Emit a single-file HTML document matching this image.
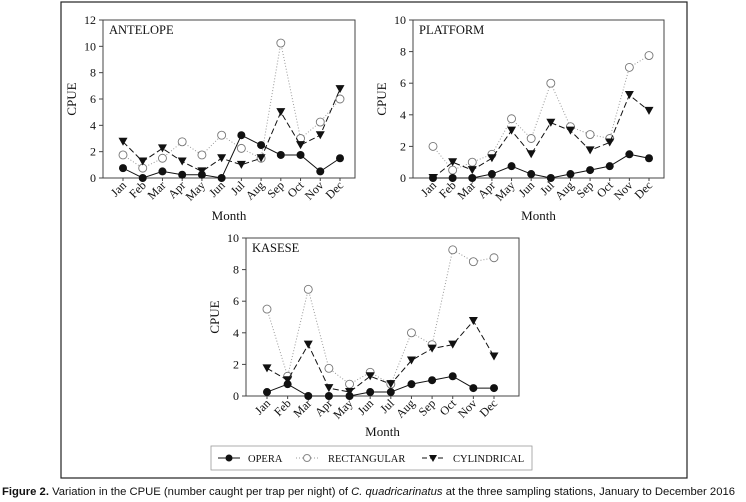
<!DOCTYPE html>
<html><head><meta charset="utf-8"><style>
body{margin:0;background:#fff;width:746px;height:502px;overflow:hidden}
svg{display:block}
text{font-family:"Liberation Serif",serif;fill:#111}
.cap{font-family:"Liberation Sans",sans-serif;font-size:11px}
</style></head><body>
<svg id="fig" width="746" height="502">
<rect x="61" y="2" width="626" height="476" fill="none" stroke="#222" stroke-width="1.2"/>
<g id="legend">
<rect x="211" y="446" width="321" height="24" fill="none" stroke="#999" stroke-width="0.8"/>
<g><line x1="218" y1="458" x2="240" y2="458" stroke="#111"/><circle cx="229" cy="458" r="3.5" fill="#111"/><text x="248" y="462" font-size="10.5">OPERA</text></g>
<g><line x1="296" y1="458" x2="318" y2="458" stroke="#999" stroke-dasharray="1,2"/><circle cx="307" cy="458" r="3.5" fill="#fff" stroke="#888"/><text x="328" y="462" font-size="10.5">RECTANGULAR</text></g>
<g><line x1="422" y1="458" x2="444" y2="458" stroke="#111" stroke-dasharray="5,3"/><path d="M429,455 L437,455 L433,462 Z" fill="#111"/><text x="453" y="462" font-size="10.5">CYLINDRICAL</text></g>
</g>
<text class="cap" x="2" y="495" textLength="733" lengthAdjust="spacingAndGlyphs"><tspan font-weight="bold">Figure 2.</tspan> Variation in the CPUE (number caught per trap per night) of <tspan font-style="italic">C. quadricarinatus</tspan> at the three sampling stations, January to December 2016</text>
</svg>
<script>
const months=["Jan","Feb","Mar","Apr","May","Jun","Jul","Aug","Sep","Oct","Nov","Dec"];
const antelopeOpera=[0.75,0,0.5,0.25,0.25,0,3.25,2.5,1.75,1.75,0.5,1.5];
const antelopeRect=[1.75,0.75,1.5,2.75,1.75,3.25,2.25,1.5,10.25,3,4.25,6];
const antelopeCyl=[2.75,1.25,2.25,1.25,0.5,1.5,1,1.5,5,2.5,3.25,6.75];
const platformOpera=[0,0,0,0.25,0.75,0.25,0,0.25,0.5,0.75,1.5,1.25];
const platformRect=[2,0.5,1,1.5,3.75,2.5,6,3.25,2.75,2.5,7,7.75];
const platformCyl=[0,1,0.5,1.25,3,1.5,3.5,3,1.75,2.25,5.25,4.25];
const kaseseOpera=[0.25,0.75,0,0,0,0.25,0.25,0.75,1,1.25,0.5,0.5];
const kaseseRect=[5.5,1.25,6.75,1.75,0.75,1.5,0.75,4,3.25,9.25,8.5,8.75];
const kaseseCyl=[1.75,1,3.25,0.5,0.25,1.25,0.75,2.25,3,3.25,4.75,2.5];
const antelopeTicks=[0,2,4,6,8,10,12];
const tenTicks=[0,2,4,6,8,10];

const NS="http://www.w3.org/2000/svg";
const svg=document.getElementById("fig");
function mk(tag,attrs,parent){const e=document.createElementNS(NS,tag);for(const k in attrs)e.setAttribute(k,attrs[k]);(parent||svg).appendChild(e);return e;}

function panel(name,box,ymax,ticks,series,monthDy){
  const g=mk("g",{});
  
  
  const {L,R,T,B,x0,x1}=box;
  const xs=i=>x0+i*(x1-x0)/(months.length-1);
  const ys=v=>B-v*(B-T)/ymax;
  const fr=mk("rect",{x:L,y:T,width:R-L,height:B-T,fill:"none",stroke:"#444","stroke-width":1},g);
  
  
  ticks.forEach(t=>{
    mk("line",{x1:L-4,x2:L,y1:ys(t),y2:ys(t),stroke:"#444"},g);
    const tx=mk("text",{x:L-7,y:ys(t)+4,"text-anchor":"end","font-size":"12"},g);
    tx.textContent=t;
    
    
  });
  months.forEach((m,i)=>{
    mk("line",{x1:xs(i),x2:xs(i),y1:B,y2:B+3,stroke:"#444"},g);
    const tx=mk("text",{x:xs(i)+4,y:B+8,"text-anchor":"end","font-size":"12",transform:`rotate(-45 ${xs(i)+4} ${B+8})`},g);
    tx.textContent=m;
    
    
  });
  const yt=mk("text",{x:0,y:0,"text-anchor":"middle","font-size":"13",transform:`translate(${L-27} ${(T+B)/2}) rotate(-90)`},g);
  yt.textContent="CPUE";
  
  
  const xt=mk("text",{x:(L+R)/2,y:B+monthDy,"text-anchor":"middle","font-size":"13"},g);
  xt.textContent="Month";
  
  
  const st=mk("text",{x:L+6,y:T+14,"font-size":"12.5"},g);
  st.textContent=name.toUpperCase();
  
  
  series.forEach(s=>{
    const pts=s.data.map((v,i)=>xs(i)+","+ys(v)).join(" ");
    const pl=mk("polyline",{points:pts,fill:"none",stroke:s.stroke,"stroke-width":1,"stroke-dasharray":s.dash},g);
    
    
    s.data.forEach((v,i)=>{
      const x=xs(i),y=ys(v);let m;
      if(s.key==="cylindrical") m=mk("path",{d:`M${x-4.5},${y-4} L${x+4.5},${y-4} L${x},${y+4} Z`,fill:"#111"},g);
      else if(s.key==="opera") m=mk("circle",{cx:x,cy:y,r:4,fill:"#111"},g);
      else m=mk("circle",{cx:x,cy:y,r:4,fill:"#fff",stroke:"#777","stroke-width":0.9},g);
      
      
    });
  });
}
function ser(o,r,c){return [
  {key:"rectangular",data:r,stroke:"#999",dash:"1,2"},
  {key:"cylindrical",data:c,stroke:"#111",dash:"6,3"},
  {key:"opera",data:o,stroke:"#111",dash:"none"}];}
panel("antelope",{L:103,R:355,T:20,B:178,x0:123,x1:340},12,antelopeTicks,ser(antelopeOpera,antelopeRect,antelopeCyl),42);
panel("platform",{L:413,R:664,T:20,B:178,x0:433,x1:649},10,tenTicks,ser(platformOpera,platformRect,platformCyl),42);
panel("kasese",{L:246,R:519,T:238,B:396,x0:267,x1:494},10,tenTicks,ser(kaseseOpera,kaseseRect,kaseseCyl),40);
</script>
</body></html>
